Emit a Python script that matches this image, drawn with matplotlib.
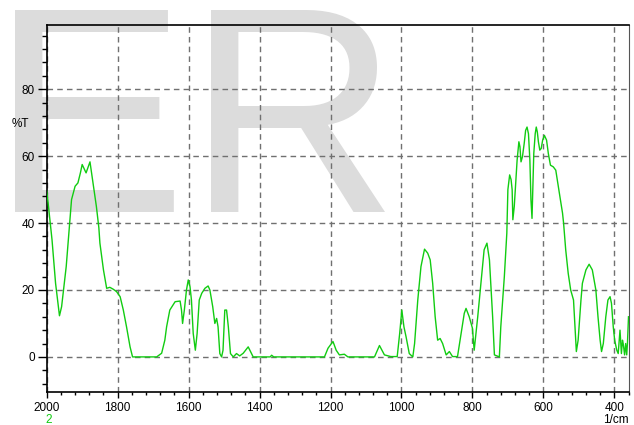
import matplotlib
matplotlib.use("Agg")
from matplotlib import pyplot as plt
from matplotlib.ticker import MultipleLocator

# spectrum (wavenumber 1/cm, %T)
wavenumber = [2000, 1996, 1985, 1975, 1964, 1958, 1945, 1930, 1920, 1912, 1905, 1900,
              1889, 1878, 1868, 1860, 1853, 1850, 1840, 1831, 1822, 1812, 1803, 1793,
              1784, 1775, 1765, 1758, 1690, 1676, 1667, 1662, 1653, 1638, 1624, 1620,
              1617, 1612, 1606, 1601, 1596, 1592, 1587, 1581, 1576, 1570, 1563, 1554,
              1545, 1540, 1532, 1526, 1521, 1517, 1512, 1507, 1503, 1498, 1493, 1488,
              1482, 1474, 1465, 1456, 1446, 1432, 1418, 1370, 1366, 1360, 1217, 1207,
              1193, 1184, 1175, 1161, 1151, 1076, 1062, 1048, 1030, 1012, 1005, 999,
              993, 987, 978, 968, 963, 954, 945, 935, 926, 919, 912, 905, 898, 891,
              884, 874, 865, 856, 842, 832, 823, 818, 809, 800, 795, 785, 776, 767,
              759, 752, 743, 738, 724, 720, 710, 703, 700, 695, 691, 688, 686, 682,
              679, 674, 669, 666, 663, 659, 654, 650, 646, 642, 638, 635, 632, 630,
              627, 623, 620, 617, 614, 610, 606, 602, 597, 591, 586, 580, 572, 565,
              558, 552, 546, 543, 537, 530, 523, 515, 510, 507, 502, 494, 490, 480,
              471, 462, 452, 446, 440, 436, 431, 424, 418, 412, 408, 403, 399, 393,
              389, 384, 380, 377, 375, 371, 368, 365, 363, 360]
transmittance = [49.6, 46, 35, 22, 12.3, 15, 27, 47, 51, 52, 55, 57.5,
                 55, 58.3, 51, 45, 38.6, 34, 26, 20.5, 20.8, 20.2, 19.5, 18,
                 14, 9, 3, 0, 0, 1.1, 5, 9, 14, 16.5, 16.7, 14,
                 10, 14, 20, 23, 21, 17, 7, 2, 7, 17, 19, 20.5,
                 21.2, 20, 15, 10, 11.5, 9, 1, 0, 2, 14, 14, 9,
                 1, 0, 1, 0.3, 1.1, 3, 0, 0, 0.5, 0, 0, 2.6,
                 4.6, 2, 0.6, 0.8, 0, 0, 3.4, 0.6, 0.1, 0.1, 7, 14,
                 9, 6, 1, 0, 4, 17, 27, 32.2, 31, 29, 22, 12, 5, 5.5,
                 4, 0.6, 1.6, 0.1, 0.1, 7, 13, 14.5, 12, 8.6, 2, 12, 22, 32,
                 34, 29, 12, 0.6, 0, 9, 24, 37, 50, 54.4, 53, 50, 41, 45,
                 50, 58.8, 64.3, 62.8, 58.3, 59.8, 63.8, 67.7, 68.7, 66.7, 58.8, 47, 41.4, 49,
                 60.8, 66.7, 68.7, 67.2, 64.3, 61.8, 62.3, 64.8, 66.2, 64.8, 60.8, 57.3, 56.8, 55.8,
                 51, 47, 43, 40, 32, 25, 20, 17, 7, 1.6, 5, 17, 22, 26,
                 27.7, 26, 20, 12, 5, 1.6, 4, 12, 17, 18, 16, 9, 5, 2,
                 1, 8, 1, 5, 4, 0.6, 4, 0.6, 4, 12]

x_ticks = [2000, 1800, 1600, 1400, 1200, 1000, 800, 600, 400]
y_ticks = [0, 20, 40, 60, 80]

plt.rcParams['font.family'] = ['Liberation Sans', 'DejaVu Sans']

fig = plt.figure(figsize=(6.34, 4.25), dpi=100)
ax = fig.add_axes([46.7 / 634, 1 - 391.7 / 425, (629 - 46.7) / 634, (391.7 - 25) / 425])
ax.set_facecolor('none')

# big gray watermark behind the plot, one letter at a time
for letter, cx in [('E', 89), ('R', 293)]:
    fig.text(cx / 634, 1 - 212 / 425, letter, fontsize=211, color='#dcdcdc',
             ha='center', va='baseline', zorder=-1)

ax.plot(wavenumber, transmittance, color='#11cc11', lw=1.0, zorder=3)

ax.set_xlim(2000, 358.6)
ax.set_ylim(-10.4, 99.2)
ax.set_xticks(x_ticks)
ax.set_yticks(y_ticks)
ax.xaxis.set_minor_locator(MultipleLocator(40))
ax.yaxis.set_minor_locator(MultipleLocator(4))
ax.tick_params(axis='both', which='major', labelsize=8.5, color='black', width=1)
ax.tick_params(axis='y', which='major', length=6.5, pad=2)
ax.tick_params(axis='y', which='minor', length=3.6, width=1)
ax.tick_params(axis='x', which='major', length=4.5, pad=3)
ax.tick_params(axis='x', which='minor', length=2.5, width=1)
ax.grid(True, which='major', color='#707070', linestyle=(0, (4, 3)), linewidth=1)

for side in ['left', 'bottom', 'top']:
    ax.spines[side].set_linewidth(1.2)
ax.spines['right'].set_color('#555555')

fig.text(20 / 634, 1 - 124 / 425, '%T', fontsize=8.5, ha='center', va='center')
fig.text(616 / 634, 1 - 420 / 425, '1/cm', fontsize=8.5, ha='center', va='center')
fig.text(49 / 634, 1 - 420 / 425, '2', fontsize=8.5, color='#11cc11', ha='center', va='center')

fig.savefig('out.png', dpi=100)
